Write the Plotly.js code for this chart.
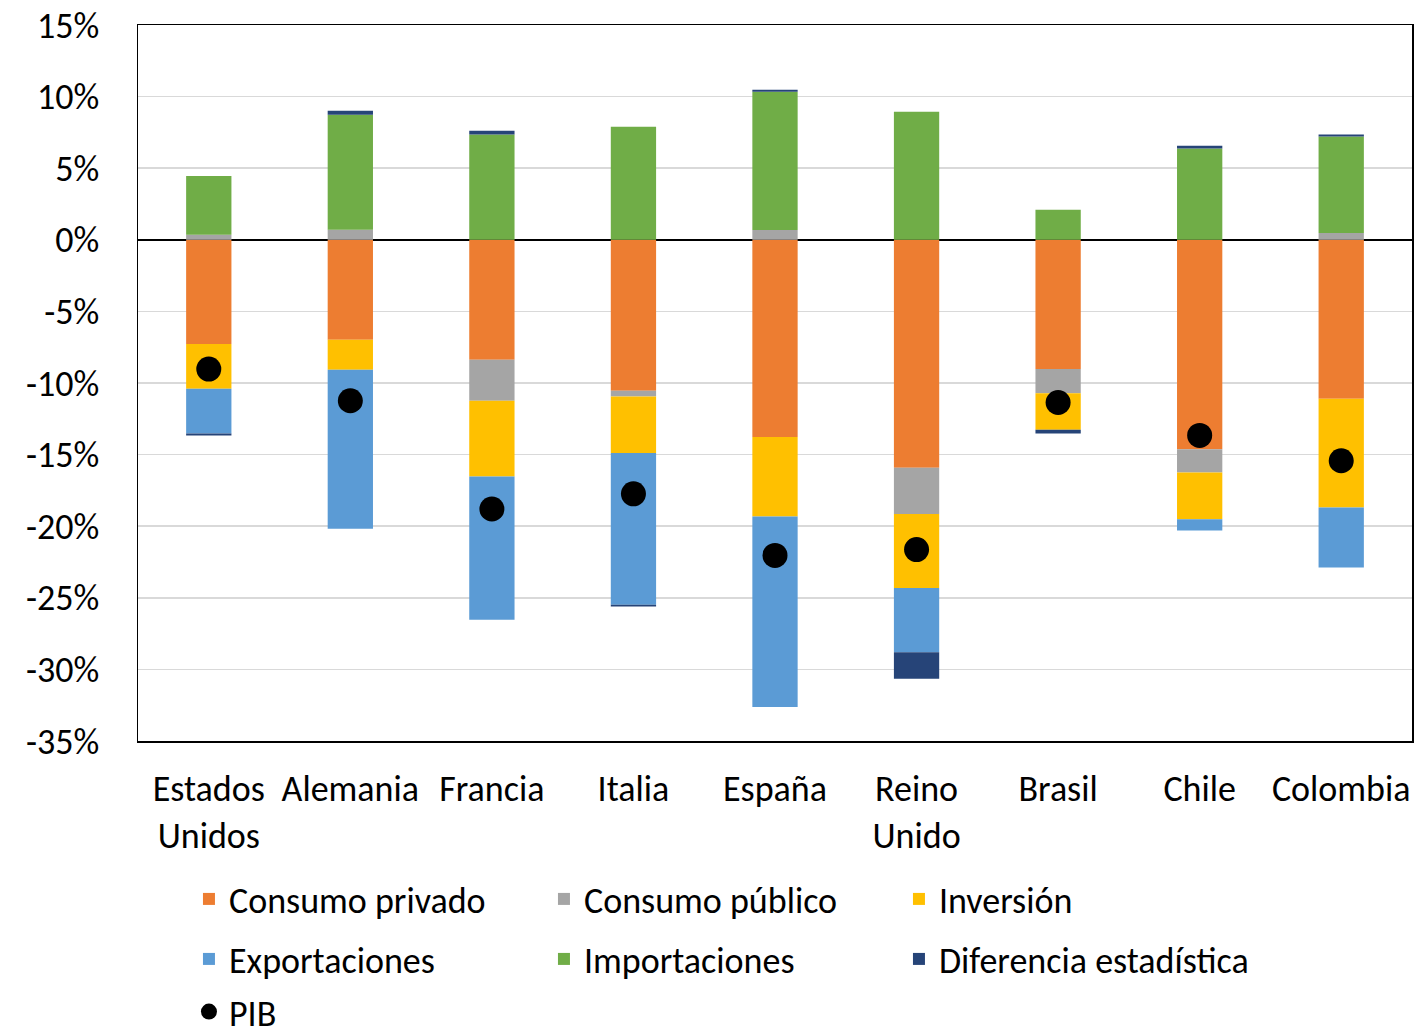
<!DOCTYPE html>
<html>
<head>
<meta charset="utf-8">
<script src="https://cdn.plot.ly/plotly-3.0.1.min.js"></script>
<style>html,body{margin:0;padding:0;background:#fff;}#chart{width:1419px;height:1036px;}</style>
</head>
<body>
<div id="chart"></div>
<script>
const categories = ["Estados<br>Unidos", "Alemania", "Francia", "Italia", "España", "Reino<br>Unido", "Brasil", "Chile", "Colombia"];
const consumoPrivado = [-7.27, -6.98, -8.38, -10.54, -13.77, -15.92, -9.03, -14.62, -11.10];
const consumoPublico = [0.35, 0.70, -2.86, -0.40, 0.69, -3.22, -1.68, -1.63, 0.47];
const inversion = [-3.14, -2.10, -5.29, -3.95, -5.56, -5.18, -2.56, -3.26, -7.59];
const exportaciones = [-3.12, -11.10, -10.00, -10.60, -13.30, -4.49, 0, -0.79, -4.19];
const importaciones = [4.10, 8.03, 7.35, 7.89, 9.64, 8.95, 2.10, 6.38, 6.75];
const diferencia = [-0.14, 0.28, 0.26, -0.12, 0.14, -1.85, -0.26, 0.19, 0.14];
const pib = [-9.03, -11.24, -18.80, -17.74, -22.04, -21.63, -11.36, -13.66, -15.43];
const tickValues = [15, 10, 5, 0, -5, -10, -15, -20, -25, -30, -35];
const tickLabels = ["15%", "10%", "5%", "0%", "-5%", "-10%", "-15%", "-20%", "-25%", "-30%", "-35%"];

const FONT = "Carlito, Lato, 'Liberation Sans', sans-serif";
const FS = 36;
const W = 0.32;
function bar(name, y, color, legend) {
  return {type: 'bar', name: name, x: categories, y: y, width: W,
    marker: {color: color, line: {width: 0}}, legend: legend, hoverinfo: 'y+name'};
}
const data = [
  bar('Consumo privado', consumoPrivado, '#ED7D31', 'legend'),
  bar('Consumo público', consumoPublico, '#A5A5A5', 'legend'),
  bar('Inversión', inversion, '#FFC000', 'legend'),
  bar('Exportaciones', exportaciones, '#5B9BD5', 'legend2'),
  bar('Importaciones', importaciones, '#70AD47', 'legend2'),
  bar('Diferencia estadística', diferencia, '#264478', 'legend2'),
  {type: 'scatter', mode: 'markers', name: 'PIB', x: categories, y: pib,
   marker: {color: '#000', size: 25, symbol: 'circle'}, legend: 'legend3'}
];
const legendBase = {orientation: 'h', xanchor: 'left', yanchor: 'middle', x: 0.040,
  entrywidth: 310, entrywidthmode: 'pixels', font: {family: FONT, size: FS, color: '#000'},
  bgcolor: 'rgba(0,0,0,0)', itemwidth: 30, tracegroupgap: 0};
const layout = {
  width: 1419, height: 1036,
  margin: {l: 138, r: 7, t: 25, b: 295, autoexpand: false},
  paper_bgcolor: '#fff', plot_bgcolor: '#fff',
  barmode: 'relative',
  font: {family: FONT, size: FS, color: '#000'},
  showlegend: true,
  xaxis: {type: 'category', range: [-0.5, 8.5], showline: true, mirror: true, linecolor: '#000', linewidth: 1.5,
    ticks: '', showgrid: false, tickfont: {family: FONT, size: FS, color: '#000'}, ticklabelstandoff: 15},
  yaxis: {range: [-35, 15], tickvals: tickValues, ticktext: tickLabels,
    showline: true, mirror: true, linecolor: '#000', linewidth: 1.5,
    showgrid: true, gridcolor: '#D9D9D9', gridwidth: 1.5,
    zeroline: true, zerolinecolor: '#000', zerolinewidth: 1.5,
    ticks: '', tickfont: {family: FONT, size: FS, color: '#000'}, ticklabelstandoff: 30},
  legend: Object.assign({}, legendBase, {y: -0.2207}),
  legend2: Object.assign({}, legendBase, {y: -0.3045}),
  legend3: Object.assign({}, legendBase, {y: -0.42, yanchor: 'bottom'})
};
Plotly.newPlot('chart', data, layout, {displayModeBar: false, staticPlot: true});
</script>
</body>
</html>
